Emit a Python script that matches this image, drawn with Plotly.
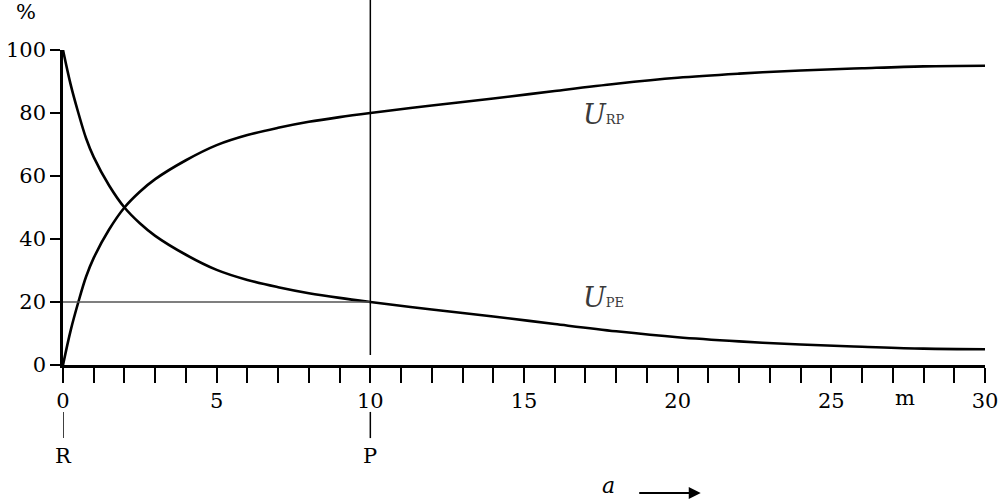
import plotly.graph_objects as go

# distance a (m)
a_vals = [0, 0.25, 0.5, 0.75, 1, 1.5, 2, 2.5, 3, 4, 5, 6, 7, 8, 9, 10,
          12, 14, 16, 18, 20, 22, 24, 26, 28, 30]
# U_PE (%)
u_pe = [100, 89, 80, 72, 66, 57, 50, 45, 41, 35, 30.2, 27, 24.7, 22.8, 21.3, 20,
        17.6, 15.4, 13.0, 10.7, 8.8, 7.5, 6.5, 5.8, 5.2, 5.0]
# U_RP (%)
u_rp = [0, 11, 20, 28, 34, 43, 50, 55, 59, 65, 69.8, 73, 75.3, 77.2, 78.7, 80,
        82.4, 84.6, 87.0, 89.3, 91.2, 92.5, 93.5, 94.2, 94.8, 95.0]

x_ticks = list(range(0, 31))
x_ticktext = [str(v) if v % 5 == 0 else "" for v in x_ticks]
y_ticks = [0, 20, 40, 60, 80, 100]

FONT = "DejaVu Serif"

fig = go.Figure()
fig.add_trace(go.Scatter(x=a_vals, y=u_rp, mode="lines", line=dict(color="black", width=2.6),
                         line_shape="spline", showlegend=False, hoverinfo="skip"))
fig.add_trace(go.Scatter(x=a_vals, y=u_pe, mode="lines", line=dict(color="black", width=2.6),
                         line_shape="spline", showlegend=False, hoverinfo="skip"))

# horizontal 20 % line from R to P
fig.add_shape(type="line", xref="x", yref="y", x0=0, x1=10, y0=20, y1=20,
              line=dict(color="#555555", width=1.5))
# vertical line at P
fig.add_shape(type="line", xref="x", yref="paper", x0=10, x1=10, y0=0.032, y1=1.2,
              line=dict(color="black", width=1.5))

ctr = dict(xanchor="center", yanchor="middle", showarrow=False)

# small marks under R and P
for xv, lab in [(0, "R"), (10, "P")]:
    fig.add_shape(type="line", xref="x", yref="paper", x0=xv, x1=xv, y0=-0.149, y1=-0.232,
                  line=dict(color="black", width=1.5))
    fig.add_annotation(x=xv, y=-0.29, xref="x", yref="paper", text=lab,
                       font=dict(family=FONT, size=21, color="black"), **ctr)

fig.add_annotation(x=-0.04, y=1.12, xref="paper", yref="paper", text="%",
                   font=dict(family=FONT, size=21, color="black"), **ctr)
fig.add_annotation(x=27.4, y=-0.105, xref="x", yref="paper", text="m",
                   font=dict(family=FONT, size=21, color="black"), **ctr)
fig.add_annotation(x=17.75, y=-0.428, xref="x", yref="paper", text="<i>a</i>",
                   xanchor="center", yanchor="bottom", showarrow=False,
                   font=dict(family=FONT, size=22, color="black"))
fig.add_annotation(x=20.75, y=-0.406, xref="x", yref="paper", ax=-63, ay=0, text="",
                   showarrow=True, arrowhead=2, arrowsize=1.2, arrowwidth=2, arrowcolor="black")

fig.add_annotation(x=17.6, y=79.5, xref="x", yref="y",
                   text="<i>U</i><span style='font-size:13px'>RP</span>",
                   font=dict(family=FONT, size=27, color="#3a3a3a"), **ctr)
fig.add_annotation(x=17.6, y=21.3, xref="x", yref="y",
                   text="<i>U</i><span style='font-size:13px'>PE</span>",
                   font=dict(family=FONT, size=27, color="#3a3a3a"), **ctr)

fig.update_xaxes(range=[0, 30], tickvals=x_ticks, ticktext=x_ticktext, ticks="outside",
                 ticklen=15, tickwidth=2, tickcolor="black", showline=True, linewidth=2.5,
                 linecolor="black", showgrid=False, zeroline=False, automargin=False,
                 tickfont=dict(family=FONT, size=21, color="black"))
fig.update_yaxes(range=[0, 100], tickvals=y_ticks, ticks="outside", ticklen=10, tickwidth=2,
                 tickcolor="black", showline=True, linewidth=2.5, linecolor="black",
                 showgrid=False, zeroline=False, automargin=False,
                 tickfont=dict(family=FONT, size=21, color="black"))

fig.update_layout(width=1004, height=501, margin=dict(l=63, r=19, t=50, b=136),
                  plot_bgcolor="white", paper_bgcolor="white")

fig.write_html("out.html", config={"displayModeBar": False},
               post_script="document.body.style.margin='0';document.body.style.overflow='hidden';")
